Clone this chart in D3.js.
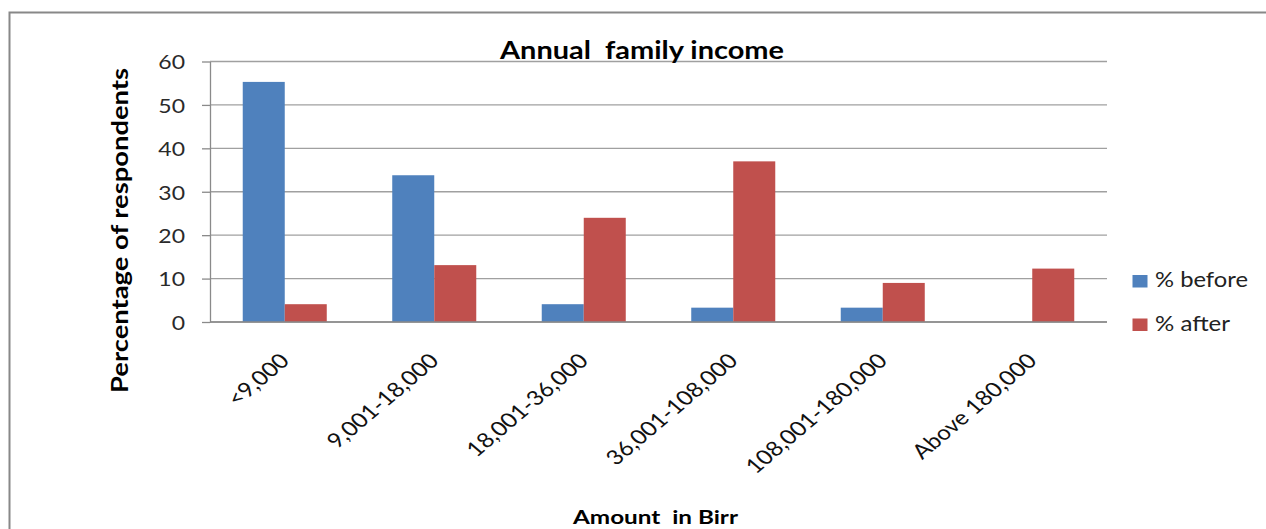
<!DOCTYPE html>
<html>
<head>
<meta charset="utf-8">
<script src="https://cdn.jsdelivr.net/npm/d3@7"></script>
<style>
  html, body { margin: 0; padding: 0; background: #fff; }
  svg { display: block; }
  text { font-family: Lato, "Open Sans", sans-serif; white-space: pre; }
</style>
</head>
<body>
<svg id="chart" width="1266" height="529"></svg>
<script>
// Annual family income before / after, share of respondents (%)
const categories = ["<9,000", "9,001-18,000", "18,001-36,000", "36,001-108,000", "108,001-180,000", "Above 180,000"];
const seriesNames = ["% before", "% after"];
const before = [55.3, 33.8, 4.1, 3.3, 3.3, 0];
const after = [4.1, 13.1, 24.0, 37.0, 9.0, 12.3];
const yTicks = [0, 10, 20, 30, 40, 50, 60];
const colors = ["#4F81BD", "#C0504D"];

const seriesValues = [before, after];
const rows = categories.map((c, i) => ({ cat: c, vals: seriesValues.map(s => s[i]) }));

const svg = d3.select("#chart");
const M = { left: 210, right: 1107, top: 61.5, bottom: 322 };
const SX = 1.18; // horizontal glyph stretch

// Outer frame (top and left edges)
svg.append("path")
  .attr("d", "M9.5,529 V12.5 H1266")
  .attr("fill", "none").attr("stroke", "#888").attr("stroke-width", 2);

const x = d3.scaleBand().domain(categories).range([M.left, M.right])
  .paddingInner(0.438).paddingOuter(0.219);
const xs = d3.scaleBand().domain(d3.range(seriesNames.length)).range([0, x.bandwidth()]);
const y = d3.scaleLinear().domain([0, 60]).range([M.bottom, M.top]);

// Horizontal gridlines
svg.append("g").selectAll("line").data(yTicks).join("line")
  .attr("x1", M.left).attr("x2", M.right)
  .attr("y1", d => y(d)).attr("y2", d => y(d))
  .attr("stroke", "#a0a0a0").attr("stroke-width", 1.3);

// Bars
const groups = svg.append("g").selectAll("g").data(rows).join("g")
  .attr("transform", d => `translate(${x(d.cat)},0)`);
groups.selectAll("rect").data(d => d.vals.map((v, k) => ({ v, k }))).join("rect")
  .attr("x", d => xs(d.k)).attr("width", xs.bandwidth())
  .attr("y", d => y(d.v)).attr("height", d => y(0) - y(d.v))
  .attr("fill", d => colors[d.k]);

// Y axis
const yAxis = svg.append("g").attr("transform", `translate(${M.left},0)`)
  .call(d3.axisLeft(y).tickValues(yTicks).tickSize(8).tickPadding(0).tickSizeOuter(0));
yAxis.select(".domain").attr("stroke", "#8a8a8a").attr("stroke-width", 1.3);
yAxis.selectAll(".tick line").attr("stroke", "#8a8a8a").attr("stroke-width", 1.3);
yAxis.selectAll(".tick text")
  .attr("x", null).attr("dy", null)
  .attr("dominant-baseline", "central")
  .attr("transform", `translate(-25,0) scale(${SX},1)`)
  .attr("font-family", "Lato").attr("font-size", 19.5).attr("fill", "#2a2a2a")
  .attr("text-anchor", "end");

// X axis baseline
svg.append("line")
  .attr("x1", M.left).attr("x2", M.right).attr("y1", y(0)).attr("y2", y(0))
  .attr("stroke", "#8a8a8a").attr("stroke-width", 1.3);

// Rotated category labels
svg.append("g").selectAll("text").data(categories).join("text")
  .attr("transform", d => `translate(${x(d) + x.bandwidth() / 2 + 6},362) scale(${SX},1) rotate(-45)`)
  .attr("text-anchor", "end")
  .attr("font-size", 20.5).attr("fill", "#111")
  .text(d => d);

// Chart title
svg.append("text")
  .attr("x", 500).attr("y", 59)
  .attr("font-size", 25).attr("font-weight", "bold").attr("fill", "#000")
  .attr("textLength", 284).attr("lengthAdjust", "spacingAndGlyphs")
  .text("Annual  family income");

// Axis titles
svg.append("text")
  .attr("transform", "translate(128,393) rotate(-90)")
  .attr("font-size", 23).attr("font-weight", "bold").attr("fill", "#000")
  .attr("textLength", 325).attr("lengthAdjust", "spacingAndGlyphs")
  .text("Percentage of respondents");

svg.append("text")
  .attr("x", 573).attr("y", 524)
  .attr("font-size", 18.5).attr("font-weight", "bold").attr("fill", "#000")
  .attr("textLength", 165).attr("lengthAdjust", "spacingAndGlyphs")
  .text("Amount  in Birr");

// Legend
const legend = svg.append("g").selectAll("g").data(seriesNames).join("g")
  .attr("transform", (d, i) => `translate(1132.5,${275 + i * 43.5})`);
legend.append("rect").attr("width", 15).attr("height", 12.5).attr("fill", (d, i) => colors[i]);
legend.append("text")
  .attr("x", 22.5).attr("y", 12.3)
  .attr("font-size", 22).attr("fill", "#222")
  .attr("textLength", (d, i) => [93, 75][i]).attr("lengthAdjust", "spacingAndGlyphs")
  .text(d => d);
</script>
</body>
</html>
